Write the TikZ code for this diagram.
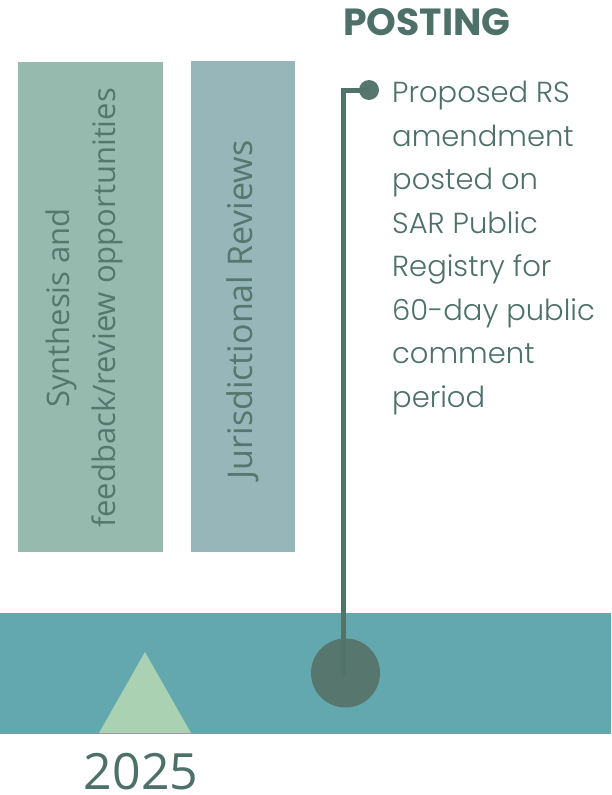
\documentclass[tikz,border=0pt]{standalone}
\usepackage{fontspec}
\setmainfont{Poppins}
\newfontfamily\popl{Poppins Light}
\newfontfamily\osans{Open Sans}
\definecolor{barc}{HTML}{63A8AE}
\definecolor{tric}{HTML}{A9D1B2}
\definecolor{dotc}{HTML}{56766E}
\definecolor{linec}{HTML}{527369}
\definecolor{txtc}{HTML}{4D7068}
\definecolor{boxa}{HTML}{97BAAE}
\definecolor{boxb}{HTML}{96B6B9}
\definecolor{boxtxt}{HTML}{55776D}
\tikzset{
  vtext/.style={rotate=90, align=center, text=boxtxt, inner sep=0pt},
  conn/.style={draw=linec, line width=5pt},
}
\begin{document}
\begin{tikzpicture}[x=1pt,y=-1pt]
\useasboundingbox (0,0) rectangle (611,795);
% bar
\fill[barc] (0,613) rectangle (611,734);
% triangle
\fill[tric] (99,733) -- (145,652) -- (191,733) -- cycle;
% boxes
\fill[boxa] (18,62) rectangle (163,552);
\fill[boxb] (191,61) rectangle (295,552);
\node[vtext, font=\osans\fontsize{31}{46}\selectfont] (syn) at (84,308) {Synthesis and\\feedback/review opportunities};
\node[vtext, font=\osans\fontsize{34}{46}\selectfont] (jur) at (243,310) {Jurisdictional Reviews};
% milestone
\node[circle, fill=dotc, minimum size=69pt, inner sep=0pt] (ms) at (345.5,673) {};
\node[circle, fill=dotc, minimum size=20pt, inner sep=0pt] (dot) at (369,90) {};
\coordinate (corner) at (343,90);
\draw[conn] (ms.center) -- (343,673) -- (corner) -- (dot.center);
% texts
\node[anchor=base west, inner sep=0pt, text=txtc, font=\bfseries\fontsize{37.8}{40}\selectfont] (post) at (343,35) {POSTING};
\node[anchor=base west, inner sep=0pt, align=left, text=txtc, font=\popl\fontsize{29}{43.5}\selectfont] (desc) at (392,407)
{Proposed RS\\amendment\\posted on\\SAR Public\\Registry for\\60-day public\\comment\\period};
\node[anchor=base, inner sep=0pt, text=txtc, font=\osans\fontsize{50}{60}\selectfont] (yr) at (141,789) {2025};
\end{tikzpicture}
\end{document}
